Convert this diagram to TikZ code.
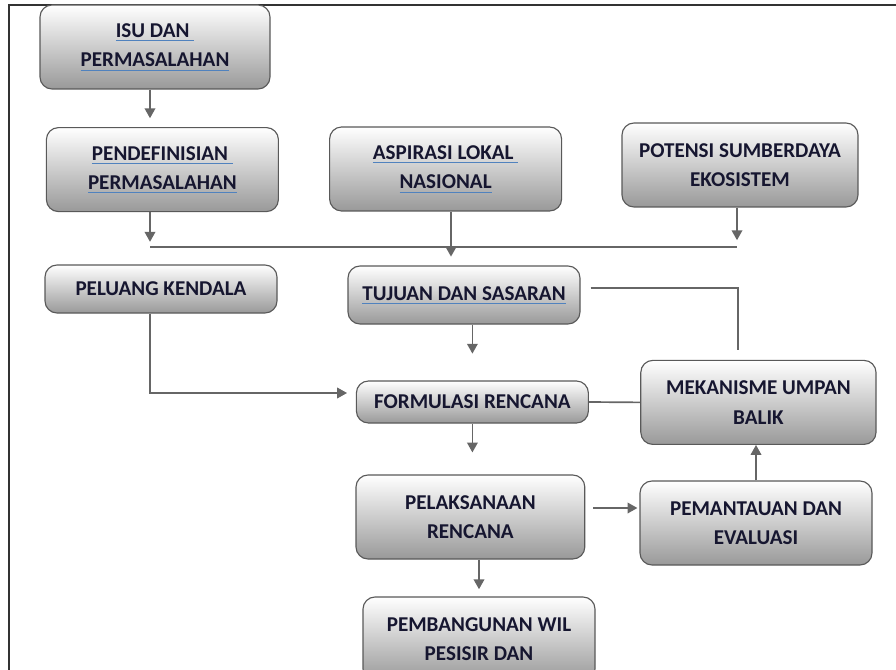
\documentclass[tikz,border=0pt]{standalone}
\usepackage{fontspec}
\setmainfont{Carlito}
\usepackage{xcolor}
\usepackage{tikz}
\usetikzlibrary{arrows.meta,positioning,calc}

\definecolor{txtcol}{RGB}{22,22,48}
\definecolor{ulcol}{RGB}{80,130,190}
\newcommand{\ulbl}[1]{\setbox0=\hbox{#1}\rlap{\color{ulcol}\rule[-2.4pt]{\wd0}{0.6pt}}\box0}

\begin{document}
\begin{tikzpicture}[
    box/.style={draw=black!65, line width=0.8pt, rounded corners=0.3cm, top color=white, bottom color=black!40,
        font=\bfseries\fontsize{15}{21}\selectfont, text=txtcol, align=center, minimum width=5.8cm, minimum height=2.1cm},
    arrow/.style={-{Triangle[width=7.5pt,length=7pt]}, line width=1.2pt, draw=black!60},
    line/.style={line width=1.2pt, draw=black!60}
]
    \useasboundingbox (0,0) rectangle (22.4,-16.75);
    \clip (0,0) rectangle (22.4,-16.75);

    % frame
    \draw[line width=1.4pt, black!80] (0.22,-16.75) -- (0.22,-0.125) -- (22.4,-0.125);

    \node[box, minimum width=5.75cm] (isu) at (3.875,-1.175) {\ulbl{ISU DAN }\\\ulbl{PERMASALAHAN}};
    \node[box] (pendef) at (4.06,-4.24) {\ulbl{PENDEFINISIAN }\\\ulbl{PERMASALAHAN}};
    \node[box] (aspirasi) at (11.14,-4.225) {\ulbl{ASPIRASI LOKAL }\\\ulbl{NASIONAL}};
    \node[box, minimum width=5.9cm] (potensi) at (18.5,-4.125) {POTENSI SUMBERDAYA\\EKOSISTEM};
    \node[box, minimum height=1.2cm] (peluang) at (4.025,-7.225) {PELUANG KENDALA};
    \node[box, minimum height=1.45cm] (tujuan) at (11.6,-7.375) {\ulbl{TUJUAN DAN SASARAN}};
    \node[box, minimum height=1.05cm] (formulasi) at (11.81,-10.05) {FORMULASI RENCANA};
    \node[box, minimum width=5.88cm] (mekanisme) at (18.96,-10.06) {MEKANISME UMPAN\\BALIK};
    \node[box, minimum width=5.72cm] (pelaksanaan) at (11.76,-12.925) {PELAKSANAAN\\RENCANA};
    \node[box] (pemantauan) at (18.9,-13.075) {PEMANTAUAN DAN\\EVALUASI};
    \node[box] (pembangunan) at (11.975,-15.975) {PEMBANGUNAN WIL\\PESISIR DAN};

    \coordinate (busL) at (3.75,-6.175);
    \coordinate (busM) at (11.275,-6.175);
    \coordinate (busR) at (18.425,-6.175);
    \coordinate (pk) at (3.75,-9.825);
    \coordinate (fb) at (18.45,-7.2);
    \coordinate (fbEnd) at (18.45,-8.75);

    \draw[arrow, shorten >=0.22cm] (isu.south -| busL) -- (pendef.north -| busL);
    \draw[arrow, shorten >=0.13cm] (pendef.south -| busL) -- (busL);
    \draw[arrow, shorten >=0.17cm] (potensi.south -| busR) -- (busR);
    \draw[line] (busL) -- (busR);
    \draw[arrow, shorten >=0.22cm] (aspirasi.south -| busM) -- (tujuan.north -| busM);

    \draw[line, shorten <=0.25cm] (tujuan.east |- fb) -- (fb) -- (fbEnd);
    \draw[arrow, shorten >=0.67cm] (tujuan.south -| formulasi.north) -- (formulasi.north);
    \draw[arrow, shorten >=0.22cm] (peluang.south -| pk) -- (pk) -- (formulasi.west |- pk);
    \draw[line] (mekanisme.west) -- (formulasi.east);

    \draw[arrow, shorten >=0.55cm] (formulasi.south) -- (formulasi.south |- pelaksanaan.north);
    \draw[arrow, shorten <=0.2cm, shorten >=0.05cm] (pelaksanaan.east |- 0,-12.7) -- (pemantauan.west |- 0,-12.7);
    \draw[arrow] (pemantauan.north) -- (pemantauan.north |- mekanisme.south);
    \draw[arrow, shorten >=0.18cm] (pelaksanaan.south -| pembangunan.north) -- (pembangunan.north);
\end{tikzpicture}
\end{document}
